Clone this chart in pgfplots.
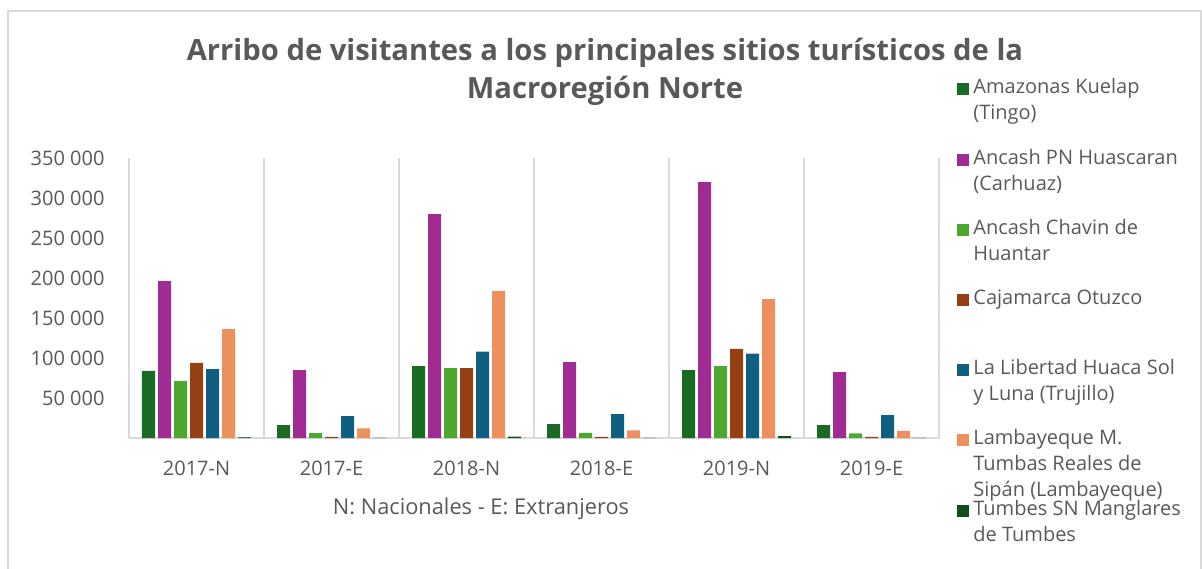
\documentclass[border=0pt]{standalone}
\usepackage{fontspec}
\setmainfont{Open Sans}
\usepackage{pgfplots}
\usepackage{pgfplotstable}
\pgfplotsset{compat=1.18}
\definecolor{txt}{HTML}{595959}
\definecolor{grd}{HTML}{D9D9D9}
\definecolor{c1}{HTML}{196B24}
\definecolor{c2}{HTML}{A02B93}
\definecolor{c3}{HTML}{4EA72E}
\definecolor{c4}{HTML}{954012}
\definecolor{c5}{HTML}{0E5F80}
\definecolor{c6}{HTML}{EE8F5E}
\definecolor{c7}{HTML}{124E1A}

\pgfplotstableread{
x a b c d e f g
0 84000 196000 71000 94000 86000 136000 800
1 16000 85000 6000 1500 27500 12000 300
2 90000 280000 87500 87500 108000 184000 1800
3 17500 95000 6500 1500 30000 9500 300
4 85000 320000 90000 111500 105500 173500 2500
5 16000 82500 5800 1500 28500 9000 300
}\data

\newcommand{\legent}[1]{\smash{\parbox[t]{120pt}{\raggedright\fontsize{10}{13}\selectfont #1}}}
\pgfplotsset{sq/.style={draw=none, fill=#1, legend image code/.code={\fill[fill=#1] (0pt,0pt) rectangle (6pt,6pt);}}}

\begin{document}
\begin{tikzpicture}
\useasboundingbox (0,0) rectangle (601pt,284pt);
\draw[grd, line width=1pt] (4pt,-5pt) rectangle (600.5pt,278.5pt);
\begin{axis}[
  at={(64.5pt,65pt)}, anchor=south west,
  width=405pt, height=140pt, scale only axis,
  xmin=-0.5, xmax=5.5, ymin=0, ymax=350000,
  ybar=1.5pt, bar width=6.5pt,
  xtick={0,...,5},
  xticklabels={2017-N,2017-E,2018-N,2018-E,2019-N,2019-E},
  minor xtick={-0.5,0.5,1.5,2.5,3.5,4.5,5.5},
  xminorgrids, minor grid style={grd, line width=0.75pt},
  ytick={50000,100000,150000,200000,250000,300000,350000},
  scaled y ticks=false,
  axis x line*=bottom, axis y line*=left,
  x axis line style={-, grd, line width=1pt},
  y axis line style={draw=none},
  major tick length=0pt, minor tick length=0pt,
  tick label style={font=\fontsize{10}{12}\selectfont, text=txt},
  xticklabel style={yshift=-8pt},
  yticklabel style={xshift=-8.7pt, /pgf/number format/.cd, fixed, precision=0, 1000 sep={\space}, assume math mode=true},
  xlabel={N: Nacionales - E: Extranjeros},
  xlabel style={at={(axis description cs:0.4346,0)}, anchor=base, yshift=-38pt, font=\fontsize{10.9}{13}\selectfont, text=txt},
  legend cell align=left,
  legend style={at={(1.0222,1.268)}, anchor=north west, draw=none, fill=none, inner sep=0pt,
    row sep=28.35pt, column sep=2pt, nodes={inner sep=0pt, text=txt}},
]
\addplot[sq=c1] table[x=x,y=a]{\data};
\addlegendentry{\legent{Amazonas Kuelap\\(Tingo)}}
\addplot[sq=c2] table[x=x,y=b]{\data};
\addlegendentry{\legent{Ancash PN Huascaran\\(Carhuaz)}}
\addplot[sq=c3] table[x=x,y=c]{\data};
\addlegendentry{\legent{Ancash Chavin de\\Huantar}}
\addplot[sq=c4] table[x=x,y=d]{\data};
\addlegendentry{\legent{Cajamarca Otuzco}}
\addplot[sq=c5] table[x=x,y=e]{\data};
\addlegendentry{\legent{La Libertad Huaca Sol\\y Luna (Trujillo)}}
\addplot[sq=c6] table[x=x,y=f]{\data};
\addlegendentry{\legent{Lambayeque M.\\Tumbas Reales de\\Sipán (Lambayeque)}}
\addplot[sq=c7] table[x=x,y=g]{\data};
\addlegendentry{\legent{Tumbes SN Manglares\\de Tumbes}}
\end{axis}
\node[anchor=base, font=\fontsize{14.6}{17}\selectfont\bfseries, text=txt] at (302.5pt,253.5pt) {Arribo de visitantes a los principales sitios turísticos de la};
\node[anchor=base, font=\fontsize{14.6}{17}\selectfont\bfseries, text=txt] at (302.5pt,234.5pt) {Macroregión Norte};
\end{tikzpicture}
\end{document}
